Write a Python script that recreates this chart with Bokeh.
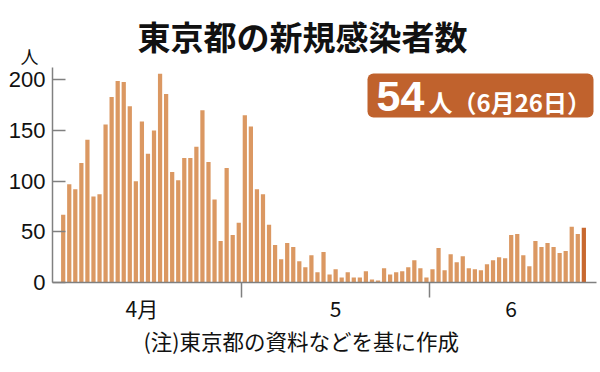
from bokeh.plotting import figure
from bokeh.models import ColumnDataSource, FixedTicker, Label, BoxAnnotation, Range1d, Title
from bokeh.embed import file_html
from bokeh.resources import INLINE

# ---- data (daily new cases in Tokyo, Apr 1 - Jun 26) ----
apr = [67, 97, 92, 118, 141, 85, 87, 156, 183, 199, 198, 174, 100, 159, 127,
       150, 206, 186, 109, 101, 123, 123, 134, 170, 119, 82, 41, 113, 47, 59]
may = [165, 154, 92, 87, 57, 37, 23, 39, 35, 21, 15, 27, 10, 30, 8, 13,
       5, 10, 5, 5, 11, 3, 2, 14, 8, 10, 11, 15, 22, 14, 5]
jun = [13, 34, 12, 28, 20, 26, 14, 13, 12, 18, 22, 25, 24, 47, 48, 27,
       16, 41, 35, 39, 35, 29, 31, 55, 48, 54]
month_labels = ["4月", "5", "6"]
y_ticks = [0, 50, 100, 150, 200]
title_text = "東京都の新規感染者数"
badge_value = "54"
badge_suffix = "人（6月26日）"
unit_text = "人"
note_text = "(注)東京都の資料などを基に作成"

values = apr + may + jun
idx = list(range(len(values)))
BAR = "#DB9862"
LAST = "#C8682F"
colors = [BAR] * (len(values) - 1) + [LAST]
src = ColumnDataSource(dict(x=idx, top=values, color=colors))

# pixel geometry helpers (image px -> data)
DX = 6.054
DY = 1.013
FRAME_L, FRAME_R, FRAME_T, FRAME_B = 52, 596, 67, 282
W, H = 598, 370
xs = (FRAME_L - 62.7) / DX
xe = xs + (FRAME_R - FRAME_L) / DX
ye = (FRAME_B - FRAME_T) / DY


def ix(px):
    return xs + (px - FRAME_L) / DX


def iy(py):
    return (FRAME_B - py) / DY


p = figure(width=W, height=H, x_range=Range1d(xs, xe), y_range=Range1d(0, ye),
           output_backend="svg", toolbar_location=None, title=None,
           min_border_left=FRAME_L, min_border_right=W - FRAME_R,
           min_border_top=FRAME_T, min_border_bottom=H - FRAME_B)
p.outline_line_color = None
p.grid.visible = False
p.background_fill_color = "white"
p.border_fill_color = "white"

p.vbar(x="x", top="top", width=0.7, fill_color="color", line_color=None, source=src)

AX = "#808080"
# y axis
p.yaxis.ticker = FixedTicker(ticks=y_ticks)
p.yaxis.major_tick_in = 13
p.yaxis.major_tick_out = 0
p.yaxis.minor_tick_line_color = None
p.yaxis.axis_line_color = AX
p.yaxis.axis_line_width = 1.5
p.yaxis.major_tick_line_color = AX
p.yaxis.major_tick_line_width = 1.5
p.yaxis.major_label_text_font = "Liberation Sans"
p.yaxis.major_label_text_font_size = "22px"
p.yaxis.major_label_text_color = "#111111"
p.yaxis.major_label_standoff = 7

# x axis: month boundaries as minor ticks, month names as major labels
bounds = [len(apr) - 0.5, len(apr) + len(may) - 0.5]
label_pos = [13, 45, 74]
p.xaxis.ticker = FixedTicker(ticks=label_pos, minor_ticks=bounds)
p.xaxis.major_label_overrides = {k: v for k, v in zip(label_pos, month_labels)}
p.xaxis.major_tick_in = 0
p.xaxis.major_tick_out = 0
p.xaxis.minor_tick_in = 0
p.xaxis.minor_tick_out = 15
p.xaxis.minor_tick_line_color = AX
p.xaxis.minor_tick_line_width = 1.5
p.xaxis.axis_line_color = AX
p.xaxis.axis_line_width = 1.5
p.xaxis.major_label_text_font = "Noto Sans CJK JP"
p.xaxis.major_label_text_font_size = "21px"
p.xaxis.major_label_text_color = "#111111"
p.xaxis.major_label_standoff = -5

# unit and title (side panel titles, not clipped by the frame)
p.add_layout(Title(text=unit_text, align="left", offset=20 - FRAME_L, standoff=-2,
                   text_font="Noto Sans CJK JP", text_font_size="18px",
                   text_font_style="normal", text_color="#111111"), "above")
p.add_layout(Title(text=title_text, align="left", offset=137 - FRAME_L, standoff=-37,
                   text_font="Noto Sans CJK JP", text_font_size="33px",
                   text_font_style="bold", text_color="#111111"), "above")
# note below the axis
p.add_layout(Title(text=note_text, align="left", offset=143 - FRAME_L, standoff=-6,
                   text_font="Noto Sans CJK JP", text_font_size="21.5px",
                   text_font_style="normal", text_color="#111111"), "below")

# badge
p.add_layout(BoxAnnotation(left=ix(367), right=ix(593), top=iy(73), bottom=iy(117),
                           fill_color="#C0622D", fill_alpha=1.0, line_color=None,
                           border_radius=6))
p.add_layout(Label(x=ix(376), y=iy(96), text=badge_value, text_align="left",
                   text_baseline="middle", text_font="Liberation Sans",
                   text_font_style="bold", text_font_size="43px", text_color="white"))
p.add_layout(Label(x=ix(428), y=iy(101), text=badge_suffix, text_align="left",
                   text_baseline="middle", text_font="Noto Sans CJK JP",
                   text_font_style="bold", text_font_size="24px", text_color="white"))

open("out.html", "w").write(file_html(p, INLINE))
